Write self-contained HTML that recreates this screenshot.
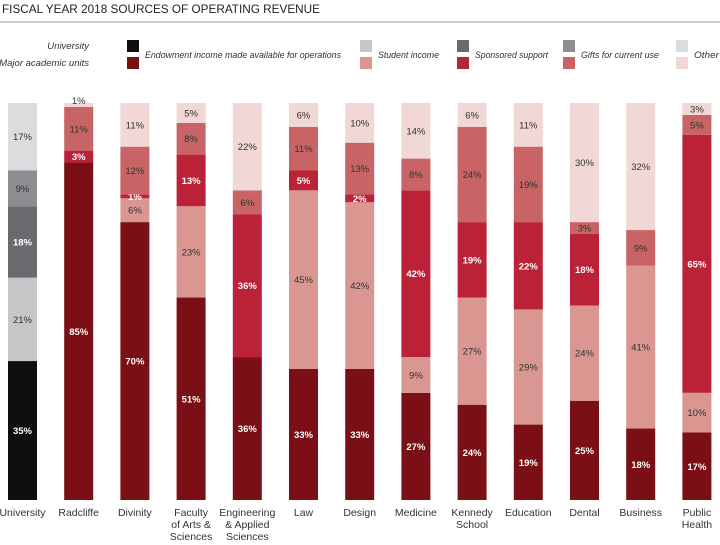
<!DOCTYPE html>
<html><head><meta charset="utf-8"><style>
body{margin:0;background:#fff;width:720px;height:540px;overflow:hidden;font-family:"Liberation Sans",sans-serif;}
svg text{font-family:"Liberation Sans",sans-serif;}
</style></head><body>
<svg id="c" width="720" height="540">
<text x="2" y="13" font-size="11.5" textLength="318" lengthAdjust="spacingAndGlyphs" fill="#222">FISCAL YEAR 2018 SOURCES OF OPERATING REVENUE</text>
<line x1="0" y1="22" x2="720" y2="22" stroke="#999" stroke-width="1"/>
<g id="legend" font-style="italic" font-size="9.5" fill="#333">
<text x="89" y="49" text-anchor="end">University</text>
<text x="89" y="66" text-anchor="end">Major academic units</text>
</g>
<g id="bars"></g>
</svg>
<script>
const categories=["University","Radcliffe","Divinity","Faculty|of Arts &|Sciences","Engineering|& Applied|Sciences","Law","Design","Medicine","Kennedy|School","Education","Dental","Business","Public|Health"];
const endowment=[35,85,70,51,36,33,33,27,24,19,25,18,17];
const student=[21,0,6,23,0,45,42,9,27,29,24,41,10];
const sponsored=[18,3,1,13,36,5,2,42,19,22,18,0,65];
const gifts=[9,11,12,8,6,11,13,8,24,19,3,9,5];
const other=[17,1,11,5,22,6,10,14,6,11,30,32,3];
const seriesNames=["Endowment income made available for operations","Student income","Sponsored support","Gifts for current use","Other"];
const series=[endowment,student,sponsored,gifts,other];
const uniColors=["#0e0e0e","#c6c6c8","#6a6a6e","#8e8e92","#dcdcde"];
const unitColors=["#7a1015","#da9792","#bb2137","#c86465","#f1d7d5"];
const darkText=[true,false,true,false,false];
const NS="http://www.w3.org/2000/svg";
const svg=document.getElementById('c');
const bars=document.getElementById('bars');
const legend=document.getElementById('legend');
const top0=103,bot=500,bw=29,x0=8,step=56.2;
const xPos=i=>x0+i*step;
function el(t,a,p){const e=document.createElementNS(NS,t);for(const k in a)e.setAttribute(k,a[k]);p.appendChild(e);return e;}
const lx=[127,360,457,563,676];
const lw=[196,61,73,78,25];
seriesNames.forEach((n,s)=>{
 const r1=el('rect',{x:lx[s],y:40,width:12,height:12,fill:uniColors[s]},legend);
 
 
 const r2=el('rect',{x:lx[s],y:57,width:12,height:12,fill:unitColors[s]},legend);
 
 
 const t=el('text',{x:lx[s]+18,y:58,textLength:lw[s],lengthAdjust:'spacingAndGlyphs'},legend);t.textContent=n;
 
 
});
categories.forEach((c,i)=>{
 const tot=series.reduce((a,s)=>a+s[i],0);
 const sc=(bot-top0)/tot;
 let y=bot;
 const cols=i===0?uniColors:unitColors;
 series.forEach((s,k)=>{
  const v=s[i];if(!v)return;
  const h=v*sc;y-=h;
  const r=el('rect',{x:xPos(i),y:y,width:bw,height:h,fill:cols[k]},bars);
  
  
  let ty=y+h/2+3.5;
  if(v===1&&k===4&&i===1)ty=y+1;
  const t=el('text',{x:xPos(i)+bw/2,y:ty,'text-anchor':'middle','font-size':9.5,fill:darkText[k]?'#fff':'#333','font-weight':darkText[k]?'bold':'normal'},bars);
  t.textContent=v+'%';
  
  
 });
 const lines=c.split('|');
 const t=el('text',{x:xPos(i)+bw/2,y:516,'text-anchor':'middle','font-size':10.5,fill:'#333'},svg);
 
 
 lines.forEach((l,j)=>{const ts=el('tspan',{x:xPos(i)+bw/2,dy:j?12:0},t);ts.textContent=l;});
});
</script>
</body></html>
